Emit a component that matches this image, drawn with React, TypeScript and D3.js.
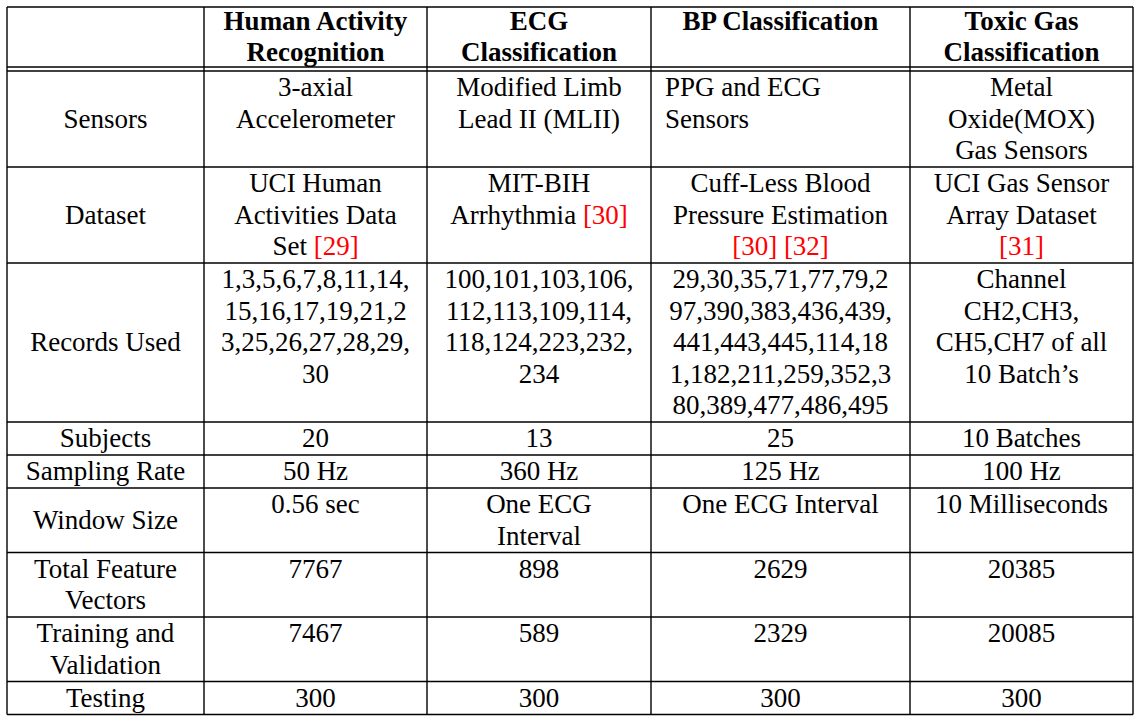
import React, { useEffect, useRef } from "react";
import * as d3 from "d3";

// ---------- data ----------
const headers = ["", "Human Activity\nRecognition", "ECG\nClassification", "BP Classification", "Toxic Gas\nClassification"];
const rowLabels = ["Sensors", "Dataset", "Records Used", "Subjects", "Sampling Rate", "Window Size", "Total Feature\nVectors", "Training and\nValidation", "Testing"];
const harValues = ["3-axial\nAccelerometer", "UCI Human\nActivities Data\nSet [29]", "1,3,5,6,7,8,11,14,\n15,16,17,19,21,2\n3,25,26,27,28,29,\n30", "20", "50 Hz", "0.56 sec", "7767", "7467", "300"];
const ecgValues = ["Modified Limb\nLead II (MLII)", "MIT-BIH\nArrhythmia [30]", "100,101,103,106,\n112,113,109,114,\n118,124,223,232,\n234", "13", "360 Hz", "One ECG\nInterval", "898", "589", "300"];
const bpValues = ["PPG and ECG\nSensors", "Cuff-Less Blood\nPressure Estimation\n[30] [32]", "29,30,35,71,77,79,2\n97,390,383,436,439,\n441,443,445,114,18\n1,182,211,259,352,3\n80,389,477,486,495", "25", "125 Hz", "One ECG Interval", "2629", "2329", "300"];
const gasValues = ["Metal\nOxide(MOX)\nGas Sensors", "UCI Gas Sensor\nArray Dataset\n[31]", "Channel\nCH2,CH3,\nCH5,CH7 of all\n10 Batch\u2019s", "10 Batches", "100 Hz", "10 Milliseconds", "20385", "20085", "300"];

// ---------- layout ----------
const W = 1144;
const H = 722;
const colEdges = [7, 204, 427, 651, 910, 1133];
const tableTop = 7;
const headerH = 60;
const doubleGap = 4;
const lineH = 31.5;
const headerLineH = 31;
const rowPad = 1.5;
const firstBaseline = 25;
const headerBaseline = 22.5;
const fontSize = 27;
const FONT = "'Liberation Serif', 'Times New Roman', Times, serif";
const leftAligned = new Set(["0-3"]); // row-col, BP sensors cell
const leftPad = 14;

export default function App() {
  const ref = useRef<SVGSVGElement | null>(null);

  useEffect(() => {
    const svg = d3.select(ref.current);
    svg.selectAll("*").remove();

    const columnsData = [rowLabels, harValues, ecgValues, bpValues, gasValues];
    const nRows = rowLabels.length;
    const lineCount = (s: string) => s.split("\n").length;
    const rowLines = d3.range(nRows).map((r) => d3.max(columnsData, (c) => lineCount(c[r])) as number);
    const rowHeights = rowLines.map((n) => n * lineH + rowPad);
    const bodyTop = tableTop + headerH + doubleGap;
    const rowTops = rowHeights.map((_, i) => bodyTop + d3.sum(rowHeights.slice(0, i)));
    const tableBottom = bodyTop + d3.sum(rowHeights);

    const x = d3.scaleOrdinal<number, number>().domain(d3.range(colEdges.length)).range(colEdges);

    const g = svg.append("g");

    // grid lines
    const hLines = [tableTop, tableTop + headerH, bodyTop, ...rowTops.slice(1), tableBottom];
    g.selectAll("line.h")
      .data(hLines)
      .join("line")
      .attr("x1", colEdges[0])
      .attr("x2", colEdges[colEdges.length - 1])
      .attr("y1", (d) => d)
      .attr("y2", (d) => d)
      .attr("stroke", "#000")
      .attr("stroke-width", 1.4);

    g.selectAll("line.v")
      .data(d3.range(colEdges.length))
      .join("line")
      .attr("x1", (i) => x(i))
      .attr("x2", (i) => x(i))
      .attr("y1", tableTop)
      .attr("y2", tableBottom)
      .attr("stroke", "#000")
      .attr("stroke-width", 1.4);

    // cell text writer
    const writeCell = (
      text: string,
      col: number,
      top: number,
      height: number,
      bold: boolean,
      vCenter: boolean,
      left: boolean
    ) => {
      const lines = text.split("\n");
      const lh = bold ? headerLineH : lineH;
      const base = bold ? headerBaseline : firstBaseline;
      const blockH = lines.length * lh + rowPad;
      const off = vCenter ? (height - blockH) / 2 : 0;
      const cx = (x(col) + x(col + 1)) / 2;
      lines.forEach((ln, i) => {
        const t = g
          .append("text")
          .attr("x", left ? x(col) + leftPad : cx)
          .attr("y", top + off + base + i * lh)
          .attr("text-anchor", left ? "start" : "middle")
          .attr("font-family", FONT)
          .attr("font-size", fontSize)
          .attr("font-weight", bold ? "bold" : "normal")
          .attr("fill", "#000");
        const parts = ln.split(/(\[\d+\])/).filter((p) => p.length > 0);
        parts.forEach((p) => {
          t.append("tspan")
            .attr("fill", /^\[\d+\]$/.test(p) ? "#ff0000" : "#000")
            .text(p);
        });
      });
    };

    headers.forEach((h, c) => {
      if (h) writeCell(h, c, tableTop, headerH, true, false, false);
    });

    columnsData.forEach((colVals, c) => {
      colVals.forEach((v, r) => {
        writeCell(v, c, rowTops[r], rowHeights[r], false, c === 0, leftAligned.has(`${r}-${c}`));
      });
    });
  }, []);

  return (
    <svg
      ref={ref}
      width={W}
      height={H}
      style={{ position: "absolute", left: 0, top: 0, background: "#fff" }}
    />
  );
}
